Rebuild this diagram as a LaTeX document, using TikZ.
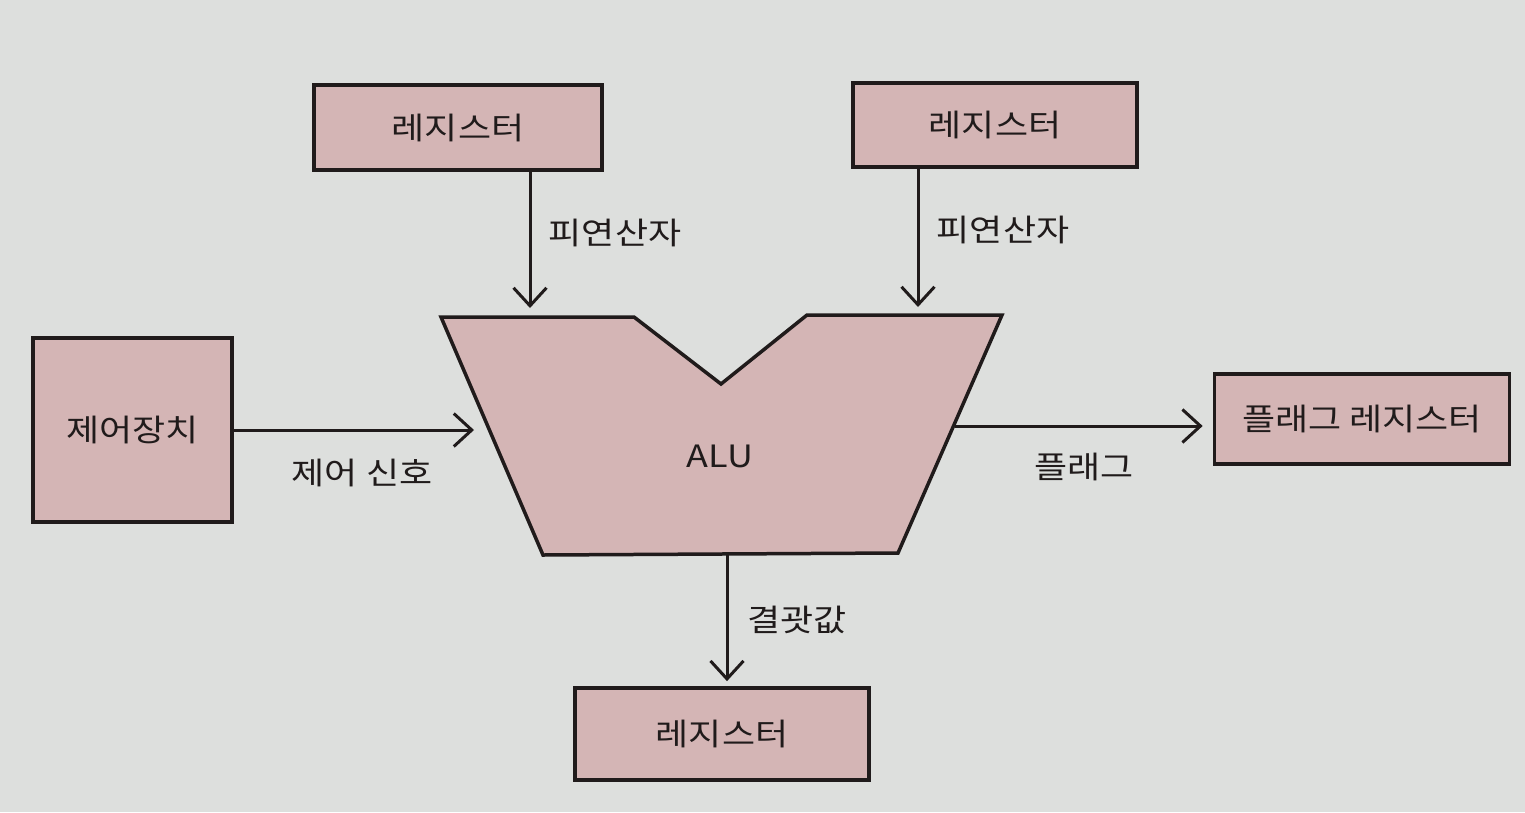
\documentclass[tikz,border=0pt]{standalone}
\usepackage{fontspec}
\newfontfamily\krfont[FakeStretch=1.17]{Noto Sans CJK KR}
\usetikzlibrary{arrows.meta}
\definecolor{pagebg}{RGB}{221,223,221}
\definecolor{boxfill}{RGB}{212,181,181}
\definecolor{ink}{RGB}{32,27,27}
\tikzset{
  regbox/.style={draw=ink, fill=boxfill, line width=0.075cm, inner sep=0pt, text=ink},
  alushape/.style={draw=ink, fill=boxfill, line width=0.07cm, line join=miter},
  arr/.style={draw=ink, line width=0.06cm, -{Straight Barb[length=0.36cm,width=0.66cm,line width=0.06cm]}},
  lbl/.style={text=ink, inner sep=0pt},
}
\begin{document}
\begin{tikzpicture}[x=0.02cm,y=-0.02cm, font=\krfont\fontsize{17.5pt}{21pt}\selectfont]
\fill[pagebg] (0,0) rectangle (1525,812);
\useasboundingbox (0,0) rectangle (1525,812);

% boxes
\node[regbox, minimum width=5.76cm, minimum height=1.70cm] (rega) at (458,127.5) {레지스터};
\node[regbox, minimum width=5.68cm, minimum height=1.68cm] (regb) at (995,125) {레지스터};
\node[regbox, minimum width=3.98cm, minimum height=3.68cm] (ctrl) at (132.5,430) {제어장치};
\node[regbox, minimum width=5.90cm, minimum height=1.80cm] (flagreg) at (1362,419) {플래그 레지스터};
\node[regbox, minimum width=5.88cm, minimum height=1.84cm] (regc) at (722,734) {레지스터};

% ALU
\draw[alushape] (441,317) -- (634,317) -- (721,384) -- (807,315) -- (1002,315) -- (898,553) -- (543,555) -- cycle;
\node[lbl] (alu) at (720,456) {ALU};

\coordinate (inA) at (530,308);
\coordinate (inB) at (918,307);
\coordinate (inC) at (474,430);
\coordinate (outF) at (955,426);
\coordinate (outR) at (727,554);

% connectors
\draw[arr] (rega.south -| inA) -- (inA);
\draw[arr] (regb.south -| inB) -- (inB);
\draw[arr] (ctrl.east |- inC) -- (inC);
\draw[arr, shorten >=0.2cm] (outF) -- (flagreg.west |- outF);
\draw[arr, shorten >=0.1cm] (outR) -- (regc.north -| outR);

% labels
\node[lbl] (la) at (615,233) {피연산자};
\node[lbl] (lb) at (1003,230) {피연산자};
\node[lbl] (lc) at (362,473) {제어 신호};
\node[lbl] (lf) at (1084,467) {플래그};
\node[lbl] (lr) at (797,620) {결괏값};
\end{tikzpicture}
\end{document}
